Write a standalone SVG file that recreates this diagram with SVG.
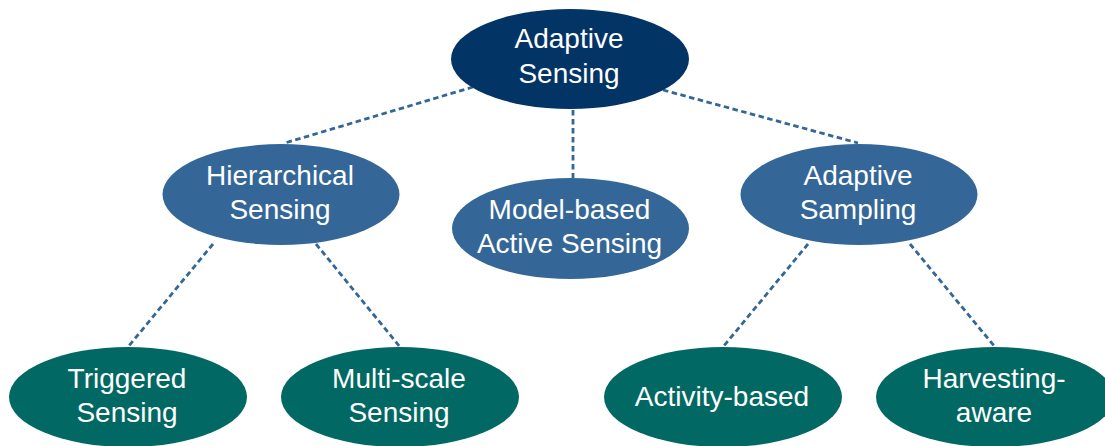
<svg xmlns="http://www.w3.org/2000/svg" width="1105" height="446" viewBox="0 0 1105 446">
<style>
.lvl0{fill:#023466}
.lvl1{fill:#346797}
.lvl2{fill:#026863}
.lbl{font-family:"Liberation Sans",Arial,sans-serif;font-size:28px;fill:#ffffff;text-anchor:middle}
.conn{stroke:#346797;stroke-width:2.8;stroke-dasharray:5.5 3.5;fill:none}
</style>
<rect width="1105" height="446" fill="#ffffff"/>
<g id="connectors">
<line class="conn" x1="473" y1="87" x2="285" y2="143"/>
<line class="conn" x1="663" y1="90" x2="858" y2="143"/>
<line class="conn" x1="573" y1="110" x2="573" y2="178"/>
<line class="conn" x1="213" y1="244" x2="128" y2="347"/>
<line class="conn" x1="316" y1="244" x2="400" y2="347"/>
<line class="conn" x1="808" y1="244" x2="723" y2="347"/>
<line class="conn" x1="910" y1="244" x2="995" y2="347"/>
</g>
<g id="adaptive-sensing">
<ellipse class="lvl0" cx="570" cy="59" rx="119" ry="50"/>
<text class="lbl" x="569" y="48">Adaptive</text>
<text class="lbl" x="569" y="83">Sensing</text>
</g>
<g id="hierarchical-sensing">
<ellipse class="lvl1" cx="281" cy="194.5" rx="118.5" ry="50.5"/>
<text class="lbl" x="280" y="185">Hierarchical</text>
<text class="lbl" x="280" y="219">Sensing</text>
</g>
<g id="model-based">
<ellipse class="lvl1" cx="570.5" cy="228.5" rx="118.5" ry="50.5"/>
<text class="lbl" x="569.5" y="219">Model-based</text>
<text class="lbl" x="569.5" y="253">Active Sensing</text>
</g>
<g id="adaptive-sampling">
<ellipse class="lvl1" cx="859" cy="194.5" rx="118.5" ry="50.5"/>
<text class="lbl" x="858" y="185">Adaptive</text>
<text class="lbl" x="858" y="219">Sampling</text>
</g>
<g id="triggered-sensing">
<ellipse class="lvl2" cx="128" cy="397" rx="119" ry="50"/>
<text class="lbl" x="127" y="388">Triggered</text>
<text class="lbl" x="127" y="422">Sensing</text>
</g>
<g id="multi-scale-sensing">
<ellipse class="lvl2" cx="400" cy="397" rx="119" ry="50"/>
<text class="lbl" x="399" y="388">Multi-scale</text>
<text class="lbl" x="399" y="422">Sensing</text>
</g>
<g id="activity-based">
<ellipse class="lvl2" cx="723" cy="397" rx="119" ry="50"/>
<text class="lbl" x="722" y="406">Activity-based</text>
</g>
<g id="harvesting-aware">
<ellipse class="lvl2" cx="995" cy="397" rx="119" ry="50"/>
<text class="lbl" x="994" y="388">Harvesting-</text>
<text class="lbl" x="994" y="422">aware</text>
</g>
</svg>
